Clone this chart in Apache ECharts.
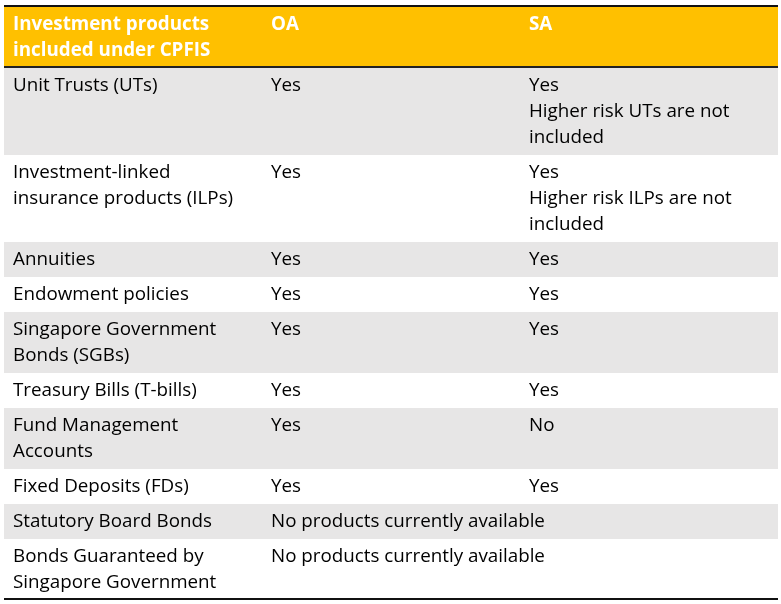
<!DOCTYPE html>
<html>
<head>
<meta charset="utf-8">
<script src="https://cdn.jsdelivr.net/npm/echarts@6/dist/echarts.min.js"></script>
<style>
html, body { margin: 0; padding: 0; background: #fff; }
#main { width: 781px; height: 604px; }
</style>
</head>
<body>
<div id="main"></div>
<script>
// column titles and table contents
var headers = ['Investment products\nincluded under CPFIS', 'OA', 'SA'];
var products = [
	'Unit Trusts (UTs)',
	'Investment-linked\ninsurance products (ILPs)',
	'Annuities',
	'Endowment policies',
	'Singapore Government\nBonds (SGBs)',
	'Treasury Bills (T-bills)',
	'Fund Management\nAccounts',
	'Fixed Deposits (FDs)',
	'Statutory Board Bonds',
	'Bonds Guaranteed by\nSingapore Government'
];
var oaValues = ['Yes', 'Yes', 'Yes', 'Yes', 'Yes', 'Yes', 'Yes', 'Yes',
	'No products currently available', 'No products currently available'];
var saValues = [
	'Yes\nHigher risk UTs are not\nincluded',
	'Yes\nHigher risk ILPs are not\nincluded',
	'Yes', 'Yes', 'Yes', 'Yes', 'No', 'Yes', '', ''
];

var rows = [headers].concat(products.map(function (p, i) {
	return [p, oaValues[i], saValues[i]];
}));

// row extents in line units: 26 per text line + 9 padding
var data = [];
var acc = 0;
rows.forEach(function (r, i) {
	var lines = Math.max.apply(null, r.map(function (t) { return t.split('\n').length; }));
	var h = i === 0 ? 63 : lines * 26 + 9;
	data.push([i, acc, acc + h]);
	acc += h;
});

var myChart = echarts.init(document.getElementById('main'));

function renderItem(params, api) {
	var i = api.value(0);
	var p0 = api.coord([0, api.value(1)]);
	var p1 = api.coord([3, api.value(2)]);
	var children = [];
	var bg = i === 0 ? '#FFC000' : (i % 2 === 1 ? '#E7E6E6' : '#FFFFFF');
	children.push({
		type: 'rect',
		shape: { x: p0[0], y: p0[1], width: p1[0] - p0[0], height: p1[1] - p0[1] },
		style: { fill: bg }
	});
	var textTop = p0[1] + (i === 0 ? 7 : 5);
	rows[i].forEach(function (t, c) {
		children.push({
			type: 'text',
			style: {
				text: t,
				x: api.coord([c, 0])[0] + 9,
				y: textTop,
				fill: i === 0 ? '#FFFFFF' : '#000000',
				fontFamily: 'Open Sans',
				fontSize: 18.8,
				fontWeight: i === 0 ? 'bold' : 'normal',
				lineHeight: 26,
				verticalAlign: 'top'
			}
		});
	});
	if (i === 0) {
		children.push({ type: 'rect', shape: { x: p0[0], y: p0[1], width: p1[0] - p0[0], height: 2 }, style: { fill: '#111' } });
		children.push({ type: 'rect', shape: { x: p0[0], y: p1[1] - 2, width: p1[0] - p0[0], height: 2 }, style: { fill: '#222' } });
	}
	if (i === rows.length - 1) {
		children.push({ type: 'rect', shape: { x: p0[0], y: p1[1] - 2, width: p1[0] - p0[0], height: 2 }, style: { fill: '#111' } });
	}
	return { type: 'group', children: children };
}

myChart.setOption({
	animation: false,
	grid: { left: 4, right: 3, top: 5, bottom: 4 },
	xAxis: { type: 'value', min: 0, max: 3, show: false },
	yAxis: { type: 'value', min: 0, max: acc, inverse: true, show: false },
	series: [{
		type: 'custom',
		renderItem: renderItem,
		clip: false,
		encode: { x: 0, y: [1, 2] },
		data: data
	}]
});
</script>
</body>
</html>
